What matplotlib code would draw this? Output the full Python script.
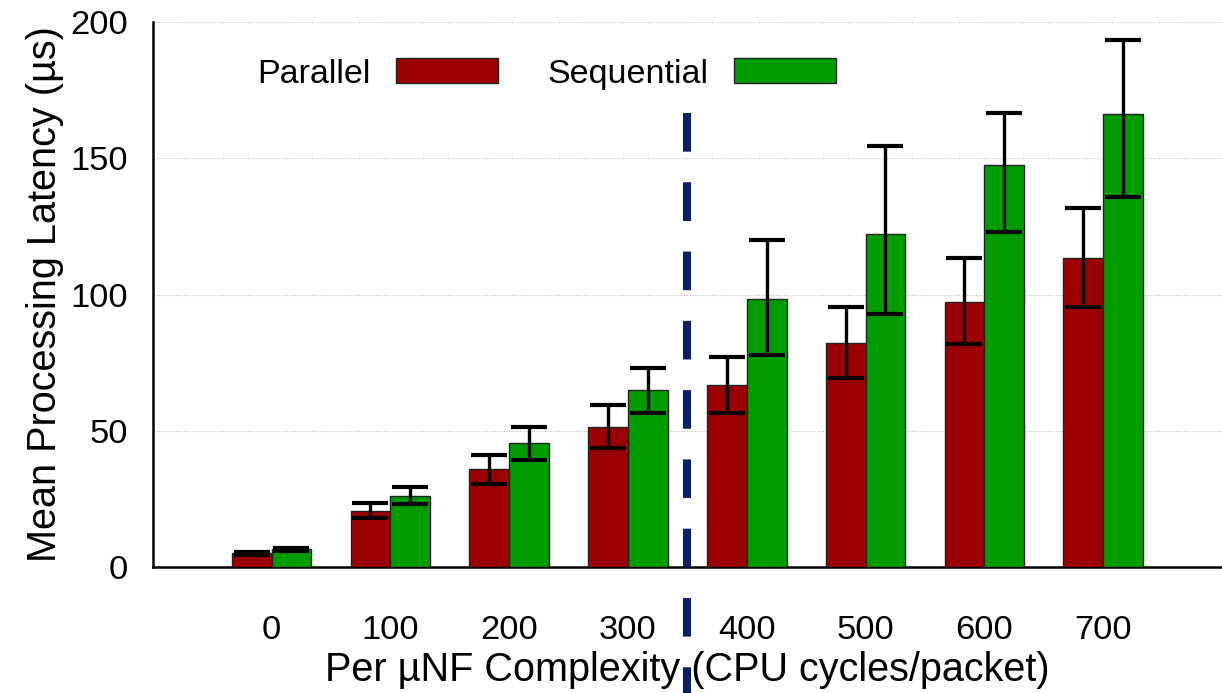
import matplotlib.pyplot as plt
import numpy as np

plt.rcParams['font.family'] = ['Liberation Sans', 'DejaVu Sans']

# Data (errors are asymmetric: lower, upper)
complexity = ['0', '100', '200', '300', '400', '500', '600', '700']
parallel = [5, 20.5, 36, 51.4, 66.8, 82.3, 97.2, 113.3]
parallel_lo = [0.5, 2.5, 5.5, 7.7, 10.3, 13.1, 15.5, 17.8]
parallel_hi = [0.5, 3.0, 5.1, 8.0, 10.3, 13.2, 16.3, 18.6]
sequential = [6.5, 26, 45.3, 65, 98.5, 122.1, 147.6, 166.2]
sequential_lo = [0.6, 2.9, 6.0, 8.5, 20.8, 29.4, 24.7, 30.3]
sequential_hi = [0.6, 3.4, 6.1, 8.0, 21.7, 32.4, 19.0, 27.2]

x = np.arange(len(complexity))
w = 0.335

fig = plt.figure(figsize=(12.22, 6.93), dpi=100)
ax = fig.add_axes([0.125, 0.182, 0.875, 0.786])

err_kw = dict(ecolor='black', elinewidth=2.4, capsize=13, capthick=3.0)
ax.bar(x - w / 2, parallel, w, yerr=[parallel_lo, parallel_hi], color='#9c0000',
       edgecolor='#222222', linewidth=1, label='Parallel', error_kw=err_kw, zorder=3)
ax.bar(x + w / 2, sequential, w, yerr=[sequential_lo, sequential_hi], color='#009c00',
       edgecolor='#222222', linewidth=1, label='Sequential', error_kw=err_kw, zorder=3)

# vertical separator between groups 300 and 400
ax.plot([3.5, 3.5], [166.5, -47], color='#0a2060', linewidth=5.8,
        dashes=(4.8, 3.8), clip_on=False, zorder=4)

ax.set_xlim(-1, 8)
ax.set_ylim(0, 200)
ax.set_xticks(x)
ax.set_xticklabels(complexity)
ax.set_yticks([0, 50, 100, 150, 200])
ax.tick_params(axis='both', length=0, labelsize=24.8)
ax.tick_params(axis='x', pad=35)
ax.tick_params(axis='y', pad=18)

ax.yaxis.grid(True, linestyle=(0, (1, 1.5)), color='#bbbbbb', linewidth=0.8, zorder=0)
ax.set_axisbelow(True)
for s in ['top', 'right']:
    ax.spines[s].set_visible(False)
ax.spines['left'].set_linewidth(1.8)
ax.spines['bottom'].set_linewidth(1.8)

ax.set_xlabel('Per µNF Complexity (CPU cycles/packet)', fontsize=28.5, labelpad=3)
ax.set_ylabel('Mean Processing Latency (µs)', fontsize=28.5, labelpad=4)

ax.legend(loc='upper left', bbox_to_anchor=(0.069, 0.99), ncol=2, frameon=False,
          markerfirst=False, fontsize=24.5, handlelength=3.0, handleheight=0.76,
          columnspacing=1.45, handletextpad=0.75)

fig.savefig('out.png', dpi=100)
